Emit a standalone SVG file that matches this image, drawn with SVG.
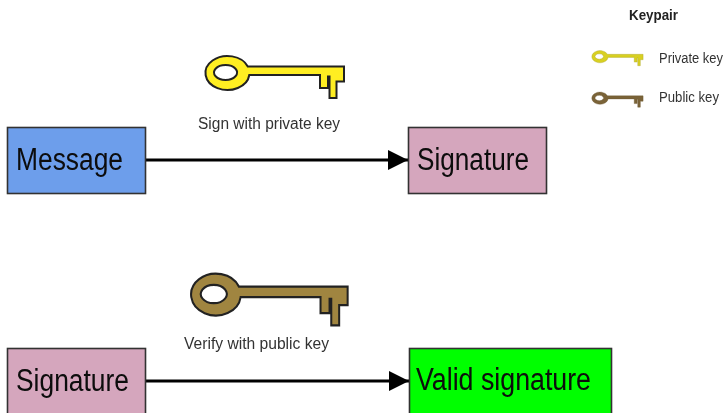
<svg xmlns="http://www.w3.org/2000/svg" width="728" height="413" viewBox="0 0 728 413">
<style>
text{font-family:"Liberation Sans",Arial,sans-serif}
.box{stroke:#333;stroke-width:1.6}
.lbl{font-size:31px;fill:#0a0a0a}
.cap{font-size:16px;fill:#333}
.lg{font-size:14px;fill:#333}
.line{fill:none;stroke:#000;stroke-width:3}
</style>
<defs>
<filter id="soft" x="-5%" y="-5%" width="110%" height="110%"><feGaussianBlur stdDeviation="0.6"/></filter>
<marker id="arrow" markerUnits="userSpaceOnUse" markerWidth="22" markerHeight="22" refX="20" refY="11" orient="auto"><path d="M0 1L20 11L0 21Z" fill="#000"/></marker>
<path id="key" fill-rule="evenodd" d="M20.300 -6H116.500V9H109V25.500H102V4H100.500V15.500H92.500V2.500H21.800A22 17 0 1 1 20.300 -6ZM-2 -7.500A11.500 7.500 0 1 0 -1.900 -7.500Z"/>
</defs>
<g filter="url(#soft)">
<g id="connectors">
<path class="line" d="M146 160H408" marker-end="url(#arrow)"/>
<path class="line" d="M146 381H409" marker-end="url(#arrow)"/>
</g>
<g id="message"><rect class="box" x="7.500" y="127.500" width="138" height="66" fill="#6d9eeb"/><text class="lbl" x="16" y="170" textLength="107" lengthAdjust="spacingAndGlyphs">Message</text></g>
<g id="signature-top"><rect class="box" x="408.500" y="127.500" width="138" height="66" fill="#d5a6bd"/><text class="lbl" x="417" y="170" textLength="112" lengthAdjust="spacingAndGlyphs">Signature</text></g>
<g id="signature-bottom"><rect class="box" x="7.500" y="348.500" width="138" height="66" fill="#d5a6bd"/><text class="lbl" x="16" y="391" textLength="113" lengthAdjust="spacingAndGlyphs">Signature</text></g>
<g id="valid-signature"><rect class="box" x="409.500" y="348.500" width="202" height="66" fill="#00ff00"/><text class="lbl" x="416" y="390" textLength="175" lengthAdjust="spacingAndGlyphs">Valid signature</text></g>
<g id="private-key-large"><use href="#key" fill="#ffee22" stroke="#222" stroke-width="2" transform="translate(227.500 72.500)"/><text class="cap" x="198" y="129" textLength="142" lengthAdjust="spacingAndGlyphs">Sign with private key</text></g>
<g id="public-key-large"><use href="#key" fill="#a08540" stroke="#222" stroke-width="1.800" transform="translate(216 294) scale(1.130 1.230)"/><text class="cap" x="184" y="349" textLength="145" lengthAdjust="spacingAndGlyphs">Verify with public key</text></g>
<g id="legend-title"><text x="629" y="20" font-size="14" font-weight="bold" fill="#222" textLength="49" lengthAdjust="spacingAndGlyphs">Keypair</text></g>
<g id="legend-private"><use href="#key" fill="#d8d020" stroke="#a8a030" stroke-width="1" transform="translate(600 56.500) scale(.37 .36)"/><text class="lg" x="659" y="63" textLength="64" lengthAdjust="spacingAndGlyphs">Private key</text></g>
<g id="legend-public"><use href="#key" fill="#7a6338" stroke="#6a5530" stroke-width="1" transform="translate(600 98) scale(.37 .36)"/><text class="lg" x="659" y="102" textLength="60" lengthAdjust="spacingAndGlyphs">Public key</text></g>
</g>
</svg>
